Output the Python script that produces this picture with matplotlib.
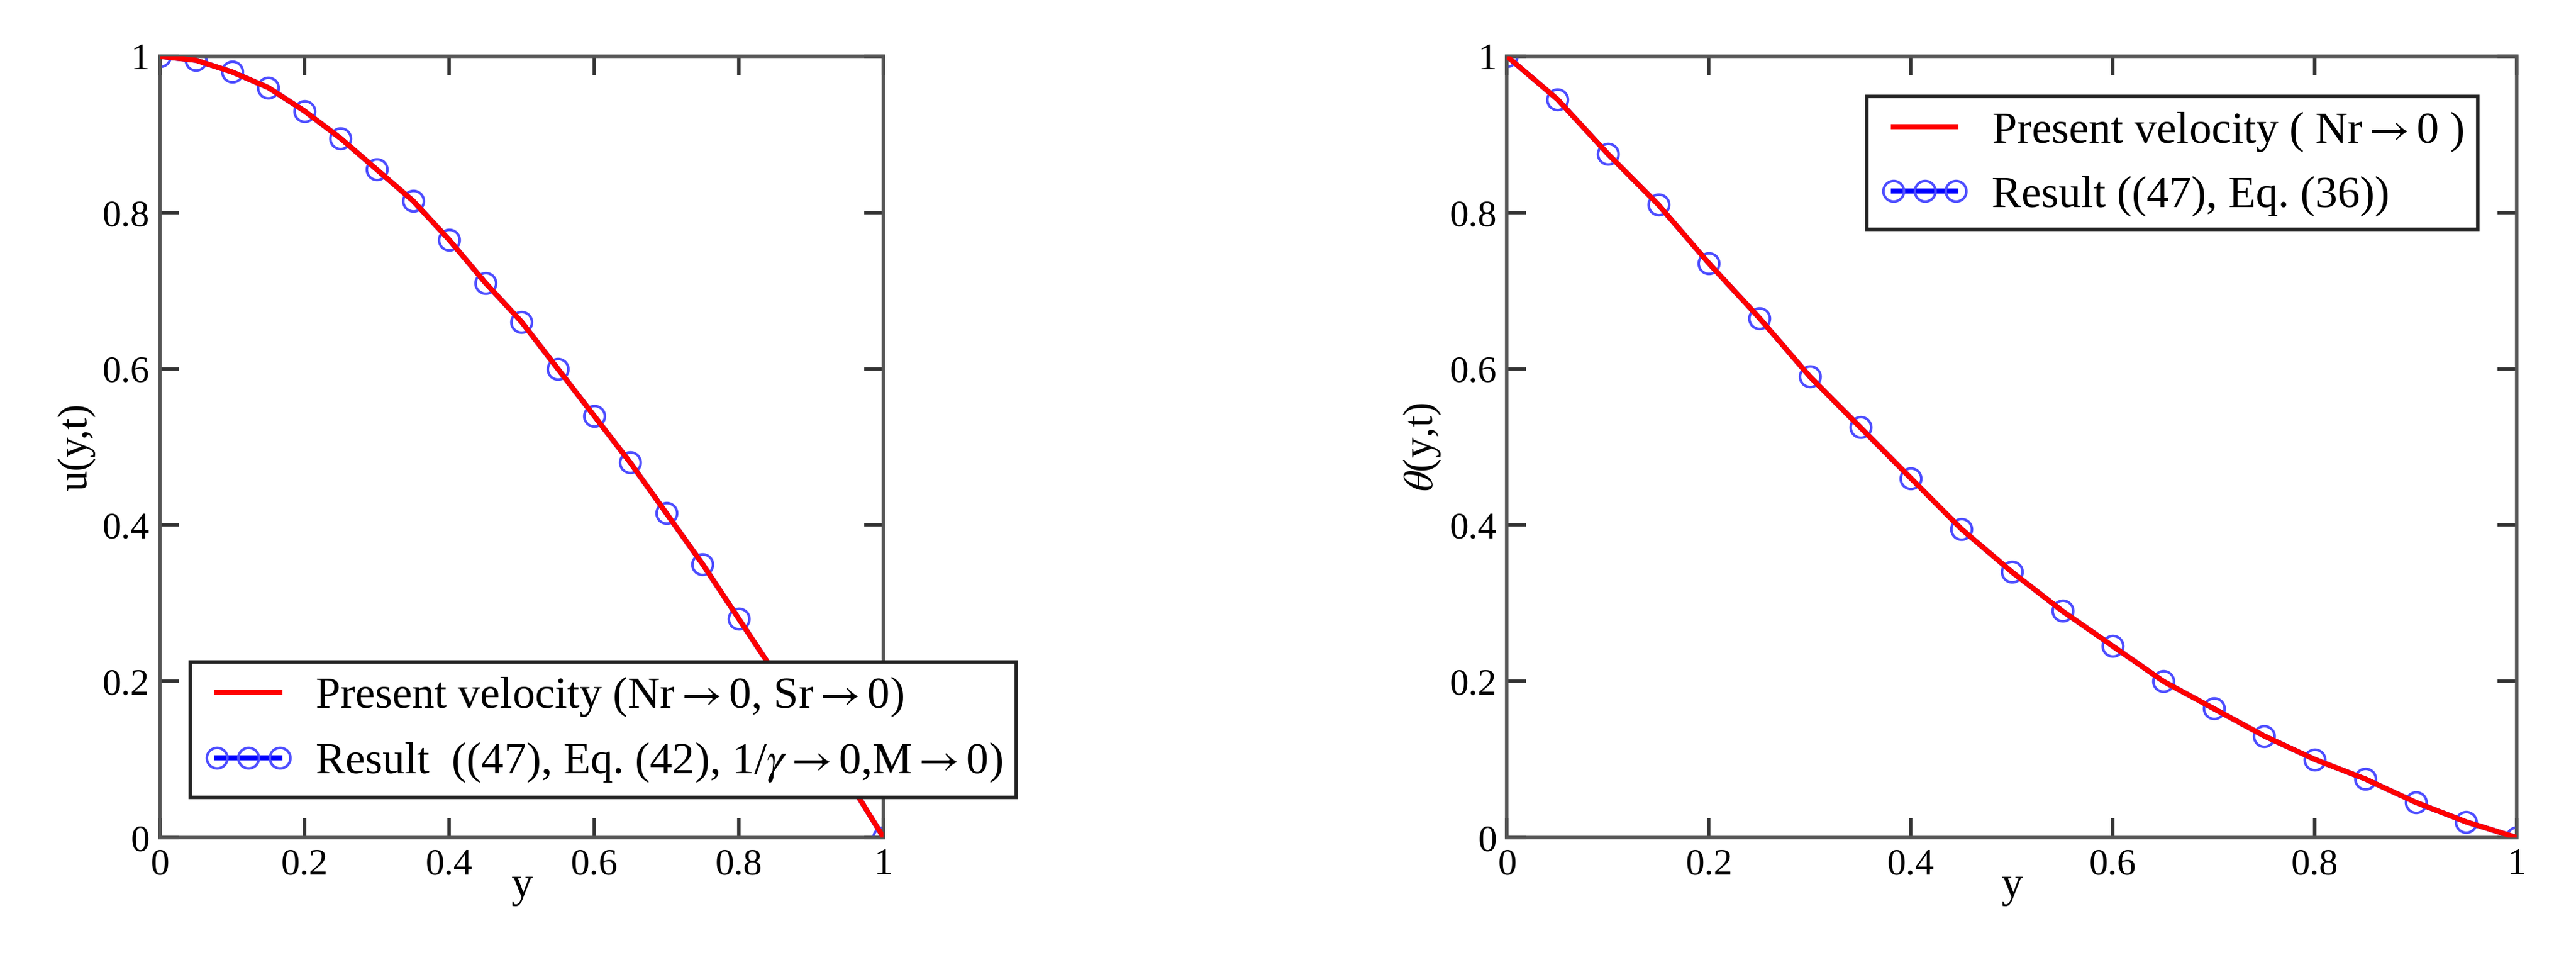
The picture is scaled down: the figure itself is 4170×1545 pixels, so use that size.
import numpy as np
import matplotlib.pyplot as plt

plt.rcParams['font.family'] = ['Liberation Serif', 'DejaVu Serif']
plt.rcParams['mathtext.fontset'] = 'stix'

y_pts = [0, 0.05, 0.1, 0.15, 0.2, 0.25, 0.3, 0.35, 0.4, 0.45, 0.5,
         0.55, 0.6, 0.65, 0.7, 0.75, 0.8, 0.85, 0.9, 0.95, 1.0]
u_vals = [1.0, 0.995, 0.98, 0.96, 0.93, 0.895, 0.855, 0.815, 0.765, 0.71, 0.66,
          0.60, 0.54, 0.48, 0.415, 0.35, 0.28, 0.21, 0.145, 0.075, 0.0]
theta_vals = [1.0, 0.945, 0.875, 0.81, 0.735, 0.665, 0.59, 0.525, 0.46, 0.395, 0.34,
              0.29, 0.245, 0.20, 0.165, 0.13, 0.10, 0.075, 0.045, 0.02, 0.0]

ticks = [0, 0.2, 0.4, 0.6, 0.8, 1]
tick_labels = ['0', '0.2', '0.4', '0.6', '0.8', '1']

fig = plt.figure(figsize=(41.7, 15.45), dpi=100)
ax1 = fig.add_axes([0.062, 0.123, 0.281, 0.818])
ax2 = fig.add_axes([0.585, 0.123, 0.392, 0.818])


def style(ax, ylab):
    ax.set_xlim(0, 1)
    ax.set_ylim(0, 1)
    ax.set_xticks(ticks)
    ax.set_yticks(ticks)
    ax.set_xticklabels(tick_labels)
    ax.set_yticklabels(tick_labels)
    ax.tick_params(direction='in', length=22, width=4, labelsize=44,
                   top=True, right=True, color='#333333', pad=12)
    for s in ax.spines.values():
        s.set_linewidth(4)
        s.set_color('#555555')
    ax.set_xlabel('y', fontsize=50, labelpad=-18)
    ax.set_ylabel(ylab, fontsize=48, labelpad=8)


ax1.plot(y_pts, u_vals, color='blue', lw=6, marker='o', ms=24, mfc='none',
         mec='#4d4dff', mew=3, label='Result  ((47), Eq. (42), 1/$\\gamma$$\\rightarrow$0,M$\\rightarrow$0)', zorder=2)
ax1.plot(y_pts, u_vals, color='red', lw=6, label='Present velocity (Nr$\\rightarrow$0, Sr$\\rightarrow$0)', zorder=3)
style(ax1, 'u(y,t)')
h, l = ax1.get_legend_handles_labels()
leg = ax1.legend(h[::-1], l[::-1], loc='lower left', bbox_to_anchor=(0.03, 0.04),
                 fontsize=52, fancybox=False, edgecolor='#222222', framealpha=1,
                 borderpad=0.3, handlelength=2.0, handletextpad=0.5, numpoints=3,
                 borderaxespad=0.2)
leg.get_frame().set_linewidth(4)

ax2.plot(y_pts, theta_vals, color='blue', lw=6, marker='o', ms=24, mfc='none',
         mec='#4d4dff', mew=3, label='Result ((47), Eq. (36))', zorder=2)
ax2.plot(y_pts, theta_vals, color='red', lw=6, label='Present velocity ( Nr$\\rightarrow$0 )', zorder=3)
style(ax2, '$\\theta$(y,t)')
h, l = ax2.get_legend_handles_labels()
leg = ax2.legend(h[::-1], l[::-1], loc='upper right', bbox_to_anchor=(0.97, 0.96),
                 fontsize=52, fancybox=False, edgecolor='#222222', framealpha=1,
                 borderpad=0.3, handlelength=2.0, handletextpad=0.5, numpoints=3,
                 borderaxespad=0.2)
leg.get_frame().set_linewidth(4)

fig.savefig('out.png', dpi=100)
